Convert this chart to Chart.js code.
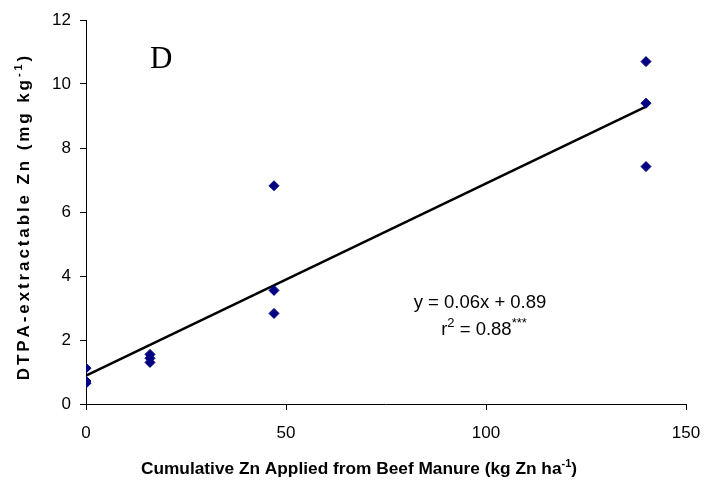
<!DOCTYPE html>
<html>
<head>
<meta charset="utf-8">
<script src="https://cdn.jsdelivr.net/npm/chart.js@4/dist/chart.umd.min.js"></script>
<style>
  html, body { margin: 0; padding: 0; background: #fff; }
  #wrap { width: 706px; height: 483px; }
</style>
</head>
<body>
<div id="wrap"><canvas id="c" width="706" height="483"></canvas></div>
<script>
// Cumulative Zn applied (kg Zn/ha) and measured DTPA-extractable Zn (mg/kg)
const appliedZn = [0, 0, 0, 16, 16, 16, 47, 47, 47, 140, 140, 140];
const dtpaZn = [1.12, 0.72, 0.65, 1.55, 1.43, 1.3, 6.82, 3.55, 2.83, 10.7, 9.4, 7.42];

// Fitted regression: y = 0.06x + 0.89
const fitSlope = 0.06;
const fitIntercept = 0.89;
const fitRange = [0, 140];

const xTicks = [0, 50, 100, 150];
const yTicks = [0, 2, 4, 6, 8, 10, 12];

const FONT = '"Liberation Sans", Arial, sans-serif';

const points = appliedZn.map((x, i) => ({ x: x, y: dtpaZn[i] }));
const fitLine = fitRange.map(x => ({ x: x, y: fitSlope * x + fitIntercept }));

// Draws text (centred on x) with optional superscript pieces and extra letter spacing
function drawRich(ctx, parts, x, y, size, weight, spacing, supScale) {
  spacing = spacing || 0;
  supScale = supScale || 0.62;
  const w = weight ? weight + ' ' : '';
  const fontFor = p => w + (p.sup ? Math.round(size * supScale) : size) + 'px ' + FONT;
  const chars = [];
  parts.forEach(p => {
    for (const ch of p.t) chars.push({ ch: ch, sup: p.sup, font: fontFor(p) });
  });
  let total = 0;
  chars.forEach(c => { ctx.font = c.font; c.w = ctx.measureText(c.ch).width; total += c.w; });
  total += spacing * (chars.length - 1);
  let cx = x - total / 2;
  chars.forEach(c => {
    ctx.font = c.font;
    ctx.fillText(c.ch, cx, c.sup ? y - size * 0.42 : y);
    cx += c.w + spacing;
  });
}

const annotations = {
  id: 'annotations',
  afterDraw(chart) {
    const ctx = chart.ctx;
    ctx.save();
    ctx.fillStyle = '#000';
    ctx.textBaseline = 'alphabetic';
    ctx.textAlign = 'left';

    // panel letter
    ctx.font = '31px "Liberation Serif", "Times New Roman", serif';
    ctx.fillText('D', 150, 68);

    // regression equation
    drawRich(ctx, [{ t: 'y = 0.06x + 0.89' }], 480, 308, 18.5);
    drawRich(ctx, [{ t: 'r' }, { t: '2', sup: true }, { t: ' = 0.88' }, { t: '***', sup: true }], 484, 335, 18.5, null, 0, 0.7);

    // x-axis title
    drawRich(ctx, [{ t: 'Cumulative Zn Applied from Beef Manure (kg Zn ha' }, { t: '-1', sup: true }, { t: ')' }], 359, 474, 17.3, 'bold');

    // y-axis title (rotated, letter-spaced)
    ctx.translate(29, 218);
    ctx.rotate(-Math.PI / 2);
    drawRich(ctx, [{ t: 'DTPA-extractable Zn (mg kg' }, { t: '-1', sup: true }, { t: ')' }], 0, 0, 17, 'bold', 2.9);
    ctx.restore();
  }
};

new Chart(document.getElementById('c'), {
  type: 'scatter',
  data: {
    datasets: [
      {
        label: 'DTPA Zn',
        data: points,
        pointStyle: 'rectRot',
        pointRadius: 5,
        pointBackgroundColor: '#000080',
        pointBorderColor: '#000080',
        pointBorderWidth: 1,
        showLine: false,
        order: 1
      },
      {
        label: 'Fit',
        data: fitLine,
        showLine: true,
        borderColor: '#000',
        borderWidth: 2.5,
        pointRadius: 0,
        fill: false,
        order: 2
      }
    ]
  },
  options: {
    responsive: false,
    animation: false,
    devicePixelRatio: 1,
    layout: { padding: { top: 20, right: 20, left: 0, bottom: 0 } },
    plugins: { legend: { display: false }, tooltip: { enabled: false } },
    scales: {
      x: {
        type: 'linear',
        min: 0, max: 150,
        afterBuildTicks: s => { s.ticks = xTicks.map(v => ({ value: v })); },
        afterFit: s => { s.height = 79; s.paddingLeft = 0; s.paddingRight = 0; },
        grid: { display: true, drawOnChartArea: false, drawTicks: true, tickLength: 6, color: '#000', lineWidth: 1 },
        border: { display: true, color: '#000', width: 1 },
        ticks: { color: '#000', font: { family: FONT, size: 17 }, padding: 13, maxRotation: 0 }
      },
      y: {
        type: 'linear',
        min: 0, max: 12,
        afterBuildTicks: s => { s.ticks = yTicks.map(v => ({ value: v })); },
        afterFit: s => { s.width = 86; s.paddingTop = 0; s.paddingBottom = 0; },
        grid: { display: true, drawOnChartArea: false, drawTicks: true, tickLength: 6, color: '#000', lineWidth: 1 },
        border: { display: true, color: '#000', width: 1 },
        ticks: { color: '#000', font: { family: FONT, size: 17 }, padding: 9 }
      }
    }
  },
  plugins: [annotations]
});
</script>
</body>
</html>
